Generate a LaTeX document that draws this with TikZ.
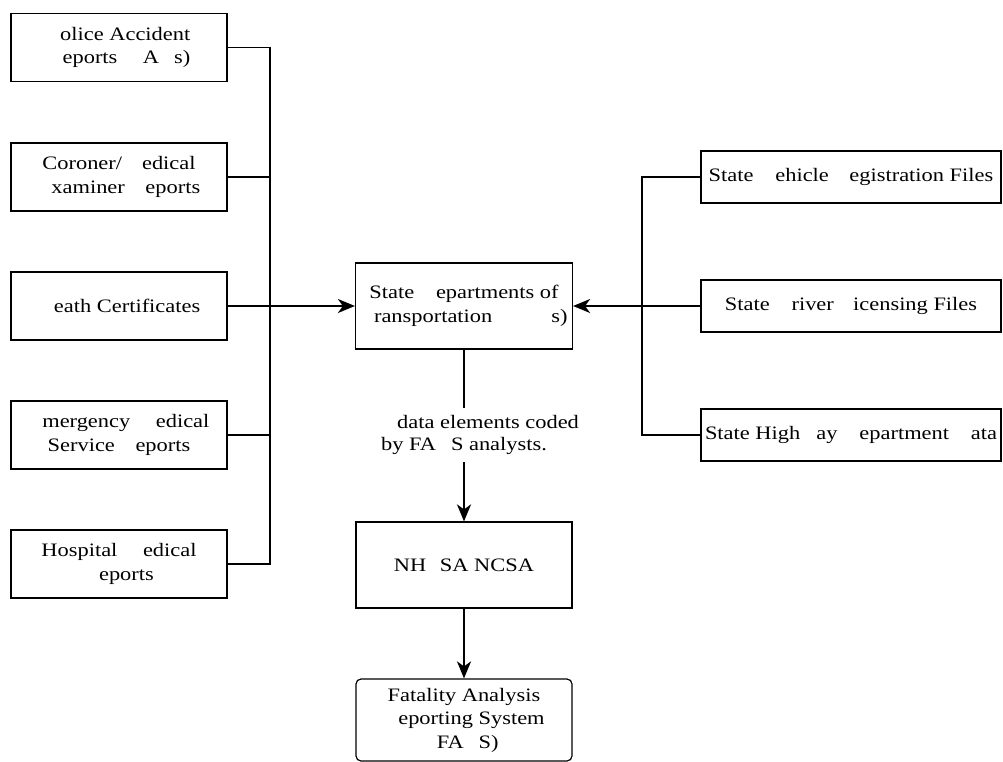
\documentclass[tikz,border=0pt]{standalone}
\usepackage{fontspec}
\setmainfont[FakeStretch=1.18]{Liberation Serif}
\usetikzlibrary{arrows.meta}
\tikzset{
  box/.style={draw, line width=1.2pt, rectangle, align=center, inner sep=2pt,
    font=\fontsize{19}{23.5}\selectfont},
  lbox/.style={box, minimum width=216pt, minimum height=68pt},
  rbox/.style={box, minimum width=300pt, minimum height=52pt},
  cbox/.style={box, minimum width=217pt, minimum height=86pt},
  lbl/.style={align=center, inner sep=0pt, minimum height=54pt, font=\fontsize{19}{22}\selectfont},
  wire/.style={line width=1.6pt},
  arr/.style={line width=2pt, -{Stealth[length=17pt,width=14pt,inset=5pt]}}
}
\begin{document}
\begin{tikzpicture}[x=1pt,y=-1pt]
\useasboundingbox (0,0) rectangle (1003,762);
% left sources
\node[lbox] (b1) at (119,47.5) {\phantom{P}olice Accident\\\phantom{R}eports \phantom{(P}A\phantom{R}s)};
\node[lbox] (b2) at (119,177) {Coroner/\phantom{M}edical\\\phantom{E}xaminer \phantom{R}eports};
\node[lbox] (b3) at (119,306) {\phantom{D}eath Certificates};
\node[lbox] (b4) at (119,435) {\phantom{E}mergency \phantom{M}edical\\Service \phantom{R}eports};
\node[lbox] (b5) at (119,564) {Hospital \phantom{M}edical\\\phantom{R}eports};
% centre
\node[cbox] (dot) at (464,306) {State \phantom{D}epartments of\\\phantom{T}ransportation \phantom{(DOT}s)};
\node[lbl] (lab) at (464,435) {\hspace*{48pt}data elements coded\\by FA\phantom{R}S analysts.};
\node[cbox, minimum width=216pt] (nh) at (464,565) {NH\phantom{T}SA NCSA};
\node[box, rounded corners=5pt, minimum width=216pt, minimum height=82pt] (fars) at (464,720) {Fatality Analysis\\\phantom{R}eporting System\\\phantom{(}FA\phantom{R}S)};
% right sources
\node[rbox] (r1) at (851,177) {State \phantom{V}ehicle \phantom{R}egistration Files};
\node[rbox] (r2) at (851,306) {State \phantom{D}river \phantom{L}icensing Files};
\node[rbox] (r3) at (851,435) {State High\phantom{w}ay \phantom{D}epartment \phantom{D}ata};
% buses
\coordinate (lb) at (270,0);
\coordinate (rb) at (642,0);
\draw[wire] (b1.east) -- (b1.east -| lb) -- (b5.east -| lb) -- (b5.east);
\draw[wire] (b2.east) -- (b2.east -| lb);
\draw[wire] (b4.east) -- (b4.east -| lb);
\draw[arr] (b3.east) -- (dot.west);
\draw[wire] (r1.west) -- (r1.west -| rb) -- (r3.west -| rb) -- (r3.west);
\draw[arr] (r2.west) -- (dot.east);
% vertical flow
\draw[wire, line width=2pt] (dot.south) -- (lab.north);
\draw[arr] (lab.south) -- (nh.north);
\draw[arr] (nh.south) -- (fars.north);
\end{tikzpicture}
\end{document}
